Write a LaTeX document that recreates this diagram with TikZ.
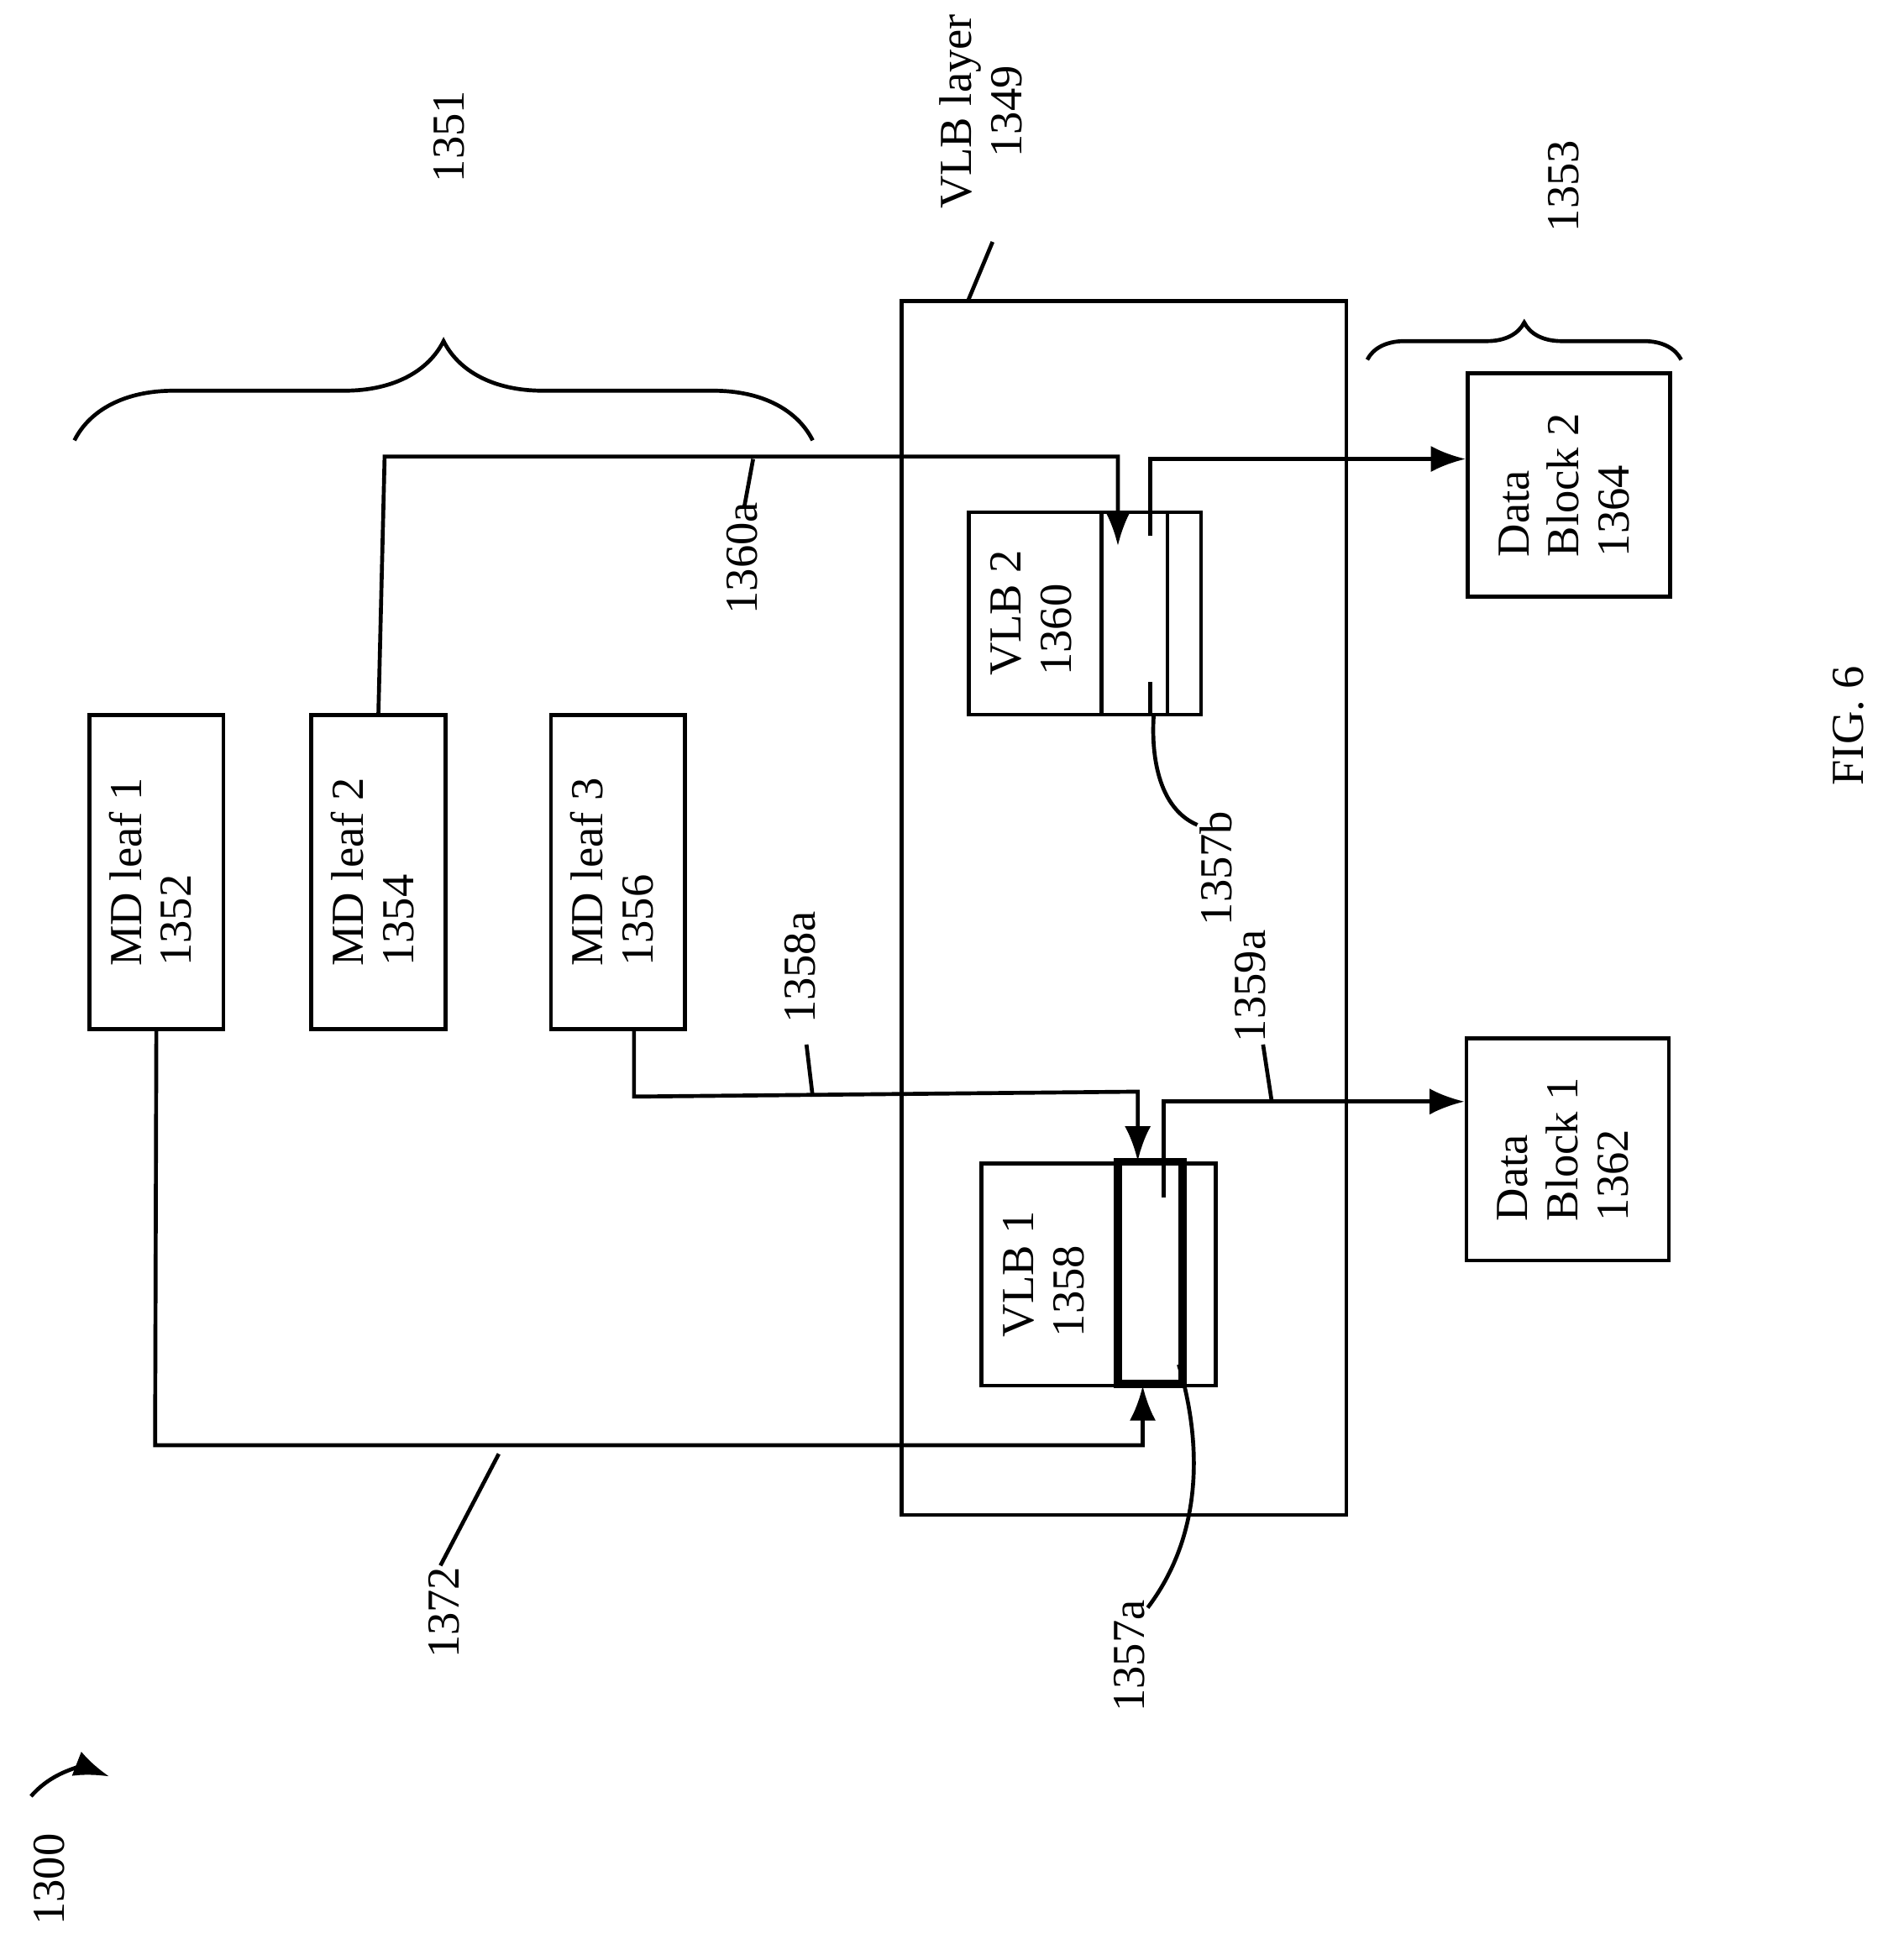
\documentclass[tikz,border=0pt]{standalone}
\usepackage{fontspec}
\setmainfont{Liberation Serif}
\usetikzlibrary{decorations.pathreplacing,arrows.meta}
\newcommand{\rtxt}[1]{\rotatebox{90}{\begin{tabular}{@{}l@{}}#1\end{tabular}}}
\tikzset{
  box/.style={draw,line width=0.9pt,inner sep=0pt},
  lab/.style={rotate=90,inner sep=1pt},
  ln/.style={line width=0.9pt},
  arr/.style={ln,-{Latex[length=8pt,width=6pt]}}
}
\begin{document}
\begin{tikzpicture}[x=0.01cm,y=-0.01cm,font=\fontsize{10.5}{11.5}\selectfont]
        \useasboundingbox (0,0) rectangle (1530,1580);
        \node[box,minimum width=1.08cm,minimum height=2.53cm] (leaf1) at (126,703) {\rtxt{MD leaf 1\\1352}};
        \node[box,minimum width=1.08cm,minimum height=2.53cm] (leaf2) at (305,703) {\rtxt{MD leaf 2\\1354}};
        \node[box,minimum width=1.08cm,minimum height=2.53cm] (leaf3) at (498,703) {\rtxt{MD leaf 3\\1356}};
        \node[box,minimum width=3.58cm,minimum height=9.78cm] (layer) at (906,732) {};
        \node[box,minimum width=1.87cm,minimum height=1.63cm] (vlb2) at (874.5,494.5) {};
        \node[box,minimum width=0.53cm,minimum height=1.63cm] (slot2) at (914.5,494.5) {};
        \node[lab] at (835,494) {\begin{tabular}{@{}l@{}}VLB 2\\1360\end{tabular}};
        \node[box,minimum width=1.89cm,minimum height=1.79cm] (vlb1) at (885.5,1027.5) {};
        \node[draw,line width=1.8pt,inner sep=0pt,minimum width=0.52cm,minimum height=1.79cm] (slot1) at (927,1026) {};
        \node[lab] at (845,1027) {\begin{tabular}{@{}l@{}}VLB 1\\1358\end{tabular}};
        \node[box,minimum width=1.63cm,minimum height=1.80cm] (data2) at (1264.5,391) {\rtxt{Data\\Block 2\\1364}};
        \node[box,minimum width=1.63cm,minimum height=1.79cm] (data1) at (1263.5,926.5) {\rtxt{Data\\Block 1\\1362}};
        % connectors
        \coordinate (in2) at (901,440);
        \coordinate (out2) at (927,432);
        \coordinate (in3) at (917,936);
        \coordinate (out1) at (938,965);
        \coordinate (in1) at (921,1117);
        \draw[arr] (leaf2.north) -- (310,368) -- (901,368) -- (in2);
        \draw[arr] (out2) -- (927,370) -- (data2.west |- 0,370);
        \draw[arr] (leaf3.south -| 511,0) -- (511,884) -- (917,880) -- (in3);
        \draw[arr] (out1) -- (938,888) -- (data1.west |- 0,888);
        \draw[arr] (leaf1.south) -- (125,1165) -- (921,1165) -- (in1);
        \draw[ln] (927,550) -- (927,575);
        % leaders and labels
        \node[lab] (l1360a) at (598,450) {1360a};
        \draw[ln] (600,408) -- (607,370);
        \node[lab] (l1358a) at (645,780) {1358a};
        \draw[ln] (650,842) -- (655,884);
        \node[lab] (l1359a) at (1008,795) {1359a};
        \draw[ln] (1018,842) -- (1025,888);
        \node[lab] (l1372) at (358,1300) {1372};
        \draw[ln] (355,1262) -- (402,1172);
        \node[lab] (l1357a) at (910,1335) {1357a};
        \draw[ln] (925,1296) .. controls (975,1230) and (965,1150) .. (950,1100);
        \node[lab] (l1357b) at (980,700) {1357b};
        \draw[ln] (965,665) .. controls (930,650) and (928,600) .. (930,575);
        \node[lab] (l1349) at (795,90) {\begin{tabular}{@{}c@{}}VLB layer\\1349\end{tabular}};
        \draw[ln] (800,195) -- (780,243);
        \node[lab] (l1351) at (362,110) {1351};
        \draw[ln,decorate,decoration={brace,amplitude=0.8cm}] (60,355) -- (655,355);
        \node[lab] (l1353) at (1260,150) {1353};
        \draw[ln,decorate,decoration={brace,amplitude=0.3cm}] (1102,290) -- (1355,290);
        \node[lab] (l1300) at (40,1515) {1300};
        \draw[arr] (25,1448) .. controls (45,1425) and (70,1425) .. (88,1432);
        \node[lab] (fig) at (1490,585) {FIG. 6};
\end{tikzpicture}
\end{document}
